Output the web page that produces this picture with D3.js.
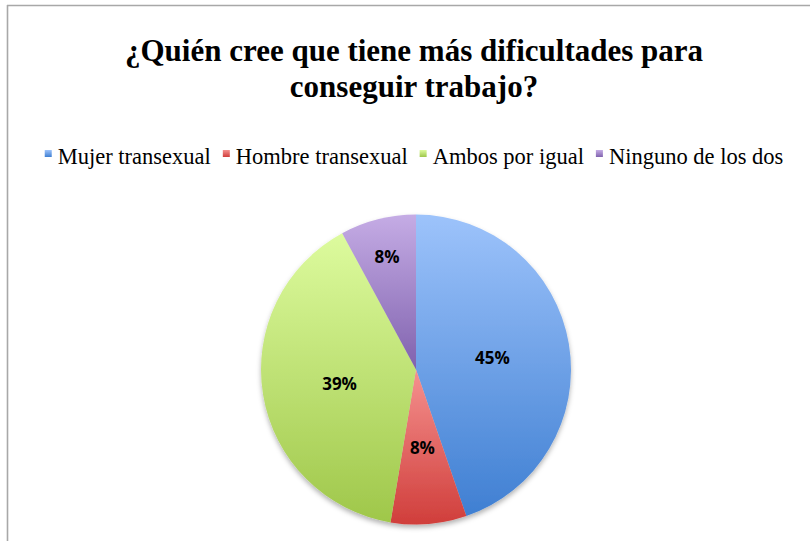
<!DOCTYPE html>
<html>
<head>
<meta charset="utf-8">
<title></title>
<style>
  body { margin: 0; background: #fff; }
  svg { display: block; }
  .title { font-family: "Liberation Serif", "Times New Roman", serif; font-weight: bold; font-size: 31px; fill: #000; }
  .legend text { font-family: "Liberation Serif", "Times New Roman", serif; font-size: 22.5px; fill: #000; }
  .labels text { font-family: "Open Sans", "Liberation Sans", sans-serif; font-weight: bold; font-size: 17px; fill: #000; }
</style>
</head>
<body>
<svg width="810" height="541"></svg>
<script src="https://cdn.jsdelivr.net/npm/d3@7"></script>
<script>
// data (answers out of 38)
var categories = ["Mujer transexual", "Hombre transexual", "Ambos por igual", "Ninguno de los dos"];
var counts = [17, 3, 15, 3];
var topColors = ["#9dc3fb", "#f5918f", "#ddfb9e", "#c5ace5"];
var bottomColors = ["#3f7fd2", "#d03e3b", "#9fc74a", "#8062ae"];
var titleLines = ["¿Quién cree que tiene más dificultades para", "conseguir trabajo?"];

var svg = d3.select("svg");
var width = +svg.attr("width");

// frame lines (top + left, as in the screenshot)
svg.append("line").attr("x1", 7).attr("y1", 5.5).attr("x2", width).attr("y2", 5.5)
  .attr("stroke", "#a8a8a8").attr("stroke-width", 1.6);
svg.append("line").attr("x1", 7.5).attr("y1", 5).attr("x2", 7.5).attr("y2", 541)
  .attr("stroke", "#a8a8a8").attr("stroke-width", 1.6);

// title
svg.append("text").attr("class", "title")
  .attr("text-anchor", "middle")
  .selectAll("tspan").data(titleLines).enter().append("tspan")
  .attr("x", 414)
  .attr("y", function(d, i) { return 61 + i * 36; })
  .text(function(d) { return d; });

var defs = svg.append("defs");
categories.forEach(function(c, i) {
  var g = defs.append("linearGradient").attr("id", "grad" + i)
    .attr("x1", 0).attr("y1", 0).attr("x2", 0).attr("y2", 1);
  g.append("stop").attr("offset", "0%").attr("stop-color", topColors[i]);
  g.append("stop").attr("offset", "100%").attr("stop-color", bottomColors[i]);
});
var shadow = defs.append("filter").attr("id", "shadow")
  .attr("x", "-10%").attr("y", "-10%").attr("width", "120%").attr("height", "125%");
shadow.append("feDropShadow").attr("dx", 0).attr("dy", 3).attr("stdDeviation", 2.5)
  .attr("flood-color", "#000").attr("flood-opacity", 0.3);

// legend
var legend = svg.append("g").attr("class", "legend");
var items = legend.selectAll("g").data(categories).enter().append("g");
items.append("rect").attr("y", 1).attr("width", 7).attr("height", 7)
  .attr("fill", function(d, i) { return "url(#grad" + i + ")"; });
items.append("text").attr("x", 13).attr("y", 15).text(function(d) { return d; });
var xpos = 0, gap = 12;
items.each(function(d) {
  var w = this.querySelector("text").getComputedTextLength();
  d3.select(this).attr("transform", "translate(" + xpos + ",149)");
  xpos += 13 + w + gap;
});
var total = xpos - gap;
legend.attr("transform", "translate(" + (414 - total / 2) + ",0)");

// pie
var cx = 416, cy = 369.5, radius = 155;
var pie = d3.pie().sort(null).value(function(d) { return d; });
var arcs = pie(counts);
var arc = d3.arc().innerRadius(0).outerRadius(radius);
var sum = d3.sum(counts);

var chart = svg.append("g").attr("transform", "translate(" + cx + "," + cy + ")");
chart.append("g").attr("filter", "url(#shadow)")
  .selectAll("path").data(arcs).enter().append("path")
  .attr("d", arc)
  .attr("fill", function(d, i) { return "url(#grad" + i + ")"; });

var labelArc = d3.arc().innerRadius(radius * 0.5).outerRadius(radius * 0.5);
var outerLabelArc = d3.arc().innerRadius(radius * 0.76).outerRadius(radius * 0.76);
chart.append("g").attr("class", "labels")
  .selectAll("text").data(arcs).enter().append("text")
  .attr("transform", function(d, i) {
    var a = (i === 3 ? outerLabelArc : labelArc).centroid(d);
    return "translate(" + a[0] + "," + a[1] + ")";
  })
  .attr("text-anchor", "middle")
  .attr("dy", "0.45em")
  .text(function(d) { return Math.round(d.value / sum * 100) + "%"; });
</script>
</body>
</html>
